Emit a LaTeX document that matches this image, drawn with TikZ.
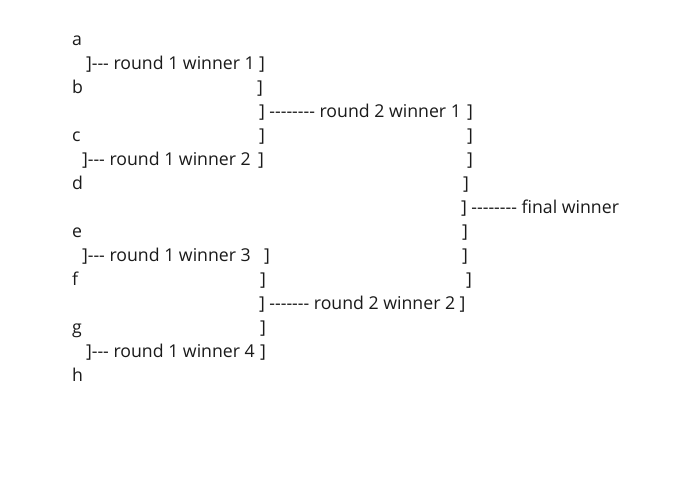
\documentclass[tikz,border=0pt]{standalone}
\usepackage{fontspec}
\newfontfamily\ofont{Open Sans}
\definecolor{txt}{HTML}{1A1A1A}
\def\hy{-\kern0pt}
\tikzset{
  t/.style={anchor=base west, inner sep=0pt, outer sep=0pt, text=txt, font=\ofont\fontsize{17.7}{20}\selectfont}
}
\begin{document}
\begin{tikzpicture}[x=1pt,y=-1pt]
\useasboundingbox (0,0) rectangle (690,488);
\fill[white] (0,0) rectangle (690,488);
% line 1
\node[t] (a) at (72,45) {a};
% line 2
\node[t] (r1w1) at (86,69) {]\hy\hy\hy{} round 1 winner 1};
\node[t] (r1w1e) at (259,69) {]};
% line 3
\node[t] (b) at (72,93) {b};
\node[t] (l3a) at (257,93) {]};
% line 4
\node[t] (r2w1) at (259,117) {] \hy\hy\hy\hy\hy\hy\hy\hy{} round 2 winner 1};
\node[t] (r2w1e) at (467,117) {]};
% line 5
\node[t] (c) at (72,141) {c};
\node[t] (l5a) at (259,141) {]};
\node[t] (l5b) at (467,141) {]};
% line 6
\node[t] (r1w2) at (82,165) {]\hy\hy\hy{} round 1 winner 2};
\node[t] (r1w2e) at (258,165) {]};
\node[t] (l6b) at (467,165) {]};
% line 7
\node[t] (d) at (72,189) {d};
\node[t] (l7a) at (463,189) {]};
% line 8
\node[t] (fw) at (461,213) {] \hy\hy\hy\hy\hy\hy\hy\hy{} final winner};
% line 9
\node[t] (e) at (72,237) {e};
\node[t] (l9a) at (462,237) {]};
% line 10
\node[t] (r1w3) at (82,261) {]\hy\hy\hy{} round 1 winner 3};
\node[t] (r1w3e) at (264,261) {]};
\node[t] (l10b) at (462,261) {]};
% line 11
\node[t] (f) at (72,285) {f};
\node[t] (l11a) at (260,285) {]};
\node[t] (l11b) at (466,285) {]};
% line 12
\node[t] (r2w2) at (259,309) {] \hy\hy\hy\hy\hy\hy\hy{} round 2 winner 2};
\node[t] (r2w2e) at (459.5,309) {]};
% line 13
\node[t] (g) at (72,333) {g};
\node[t] (l13a) at (260,333) {]};
% line 14
\node[t] (r1w4) at (86,357) {]\hy\hy\hy{} round 1 winner 4};
\node[t] (r1w4e) at (260,357) {]};
% line 15
\node[t] (h) at (72,381) {h};
\end{tikzpicture}
\end{document}
